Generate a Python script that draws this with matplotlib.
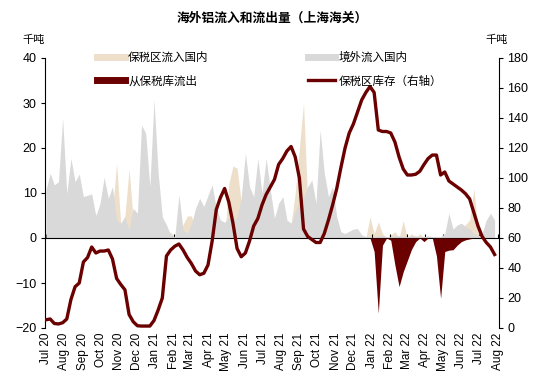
import pandas as pd
import matplotlib
matplotlib.use('Agg')
import matplotlib.pyplot as plt
import matplotlib.dates as mdates
from matplotlib.lines import Line2D

plt.rcParams['font.family'] = ['Liberation Sans', 'Noto Sans CJK SC']

# 周度数据 2020-07 ~ 2022-07
dates = pd.date_range('2020-07-01', periods=109, freq='7D')

# 保税区流入国内（千吨）
bonded_in = [0, 0, 0, 0, 0, 0, 0, 0, 0, 0,
             0, 0, 5.5, 0, 0, 0, 6, 16.6, 3, 5,
             15.3, 4, 0, 0, 0, 0, 0, 0, 0, 0,
             1.4, 0, 0, 3, 4.9, 4.9, 2, 0, 0, 0,
             0, 0, 0, 0, 12, 16, 15.5, 8, 0, 0,
             0, 0, 0, 0, 0, 0, 0, 0, 0, 3,
             10, 20, 30, 8, 0, 0, 0, 0, 0, 0,
             0, 0, 0, 0, 0, 0, 0, 0, 4.7, 1,
             3.6, 1, 0, 0.7, 1.4, 0, 3.9, 0, 1, 0,
             1, 0, 0, 0, 0, 0, 0, 0, 0, 0,
             2, 3, 4, 11, 2, 0, 0, 0, 0]

# 境外流入国内（千吨）
abroad_in = [10.7, 14.4, 11.8, 12.5, 26.6, 9.9, 17.7, 12.5, 14.2, 9.2,
             9.5, 9.8, 4.9, 7.7, 13.5, 8.8, 11.4, 4.0, 3.3, 4.7,
             1.8, 6.6, 5.5, 25.1, 23.3, 11.4, 30.7, 14.4, 4.7, 2.9,
             0.7, 0.3, 9.6, 1.8, 1.0, 3.0, 6.6, 8.8, 7.0, 9.5,
             11.8, 6.6, 4.0, 3.5, 4.5, 4.0, 4.5, 9.0, 18.8, 11.4,
             9.2, 17.7, 9.9, 17.7, 10.7, 4.4, 7.7, 9.2, 4.0, 3.3,
             6, 8, 9, 11.4, 12.9, 7.7, 24.0, 14.4, 9.2, 11.4,
             4.7, 1.4, 1.0, 1.5, 2.0, 2.1, 0.7, 0.3, 0.3, 0,
             0.5, 0.5, 0.3, 0.3, 0.5, 0.5, 0.3, 0.3, 0.5, 0.5,
             0.3, 0.3, 0.5, 0.3, 0.3, 0.3, 1.0, 5.5, 2.0, 2.9,
             3.3, 2.5, 2.0, 1.0, 0.5, 1.0, 4.0, 5.5, 4.0]

# 从保税库流出（千吨，负值）
bonded_out = [0] * 78 + [0, -3, -16.7, -1.6, 0, -0.5, -6, -10.8, -7.5, -5,
                         -2.5, -0.8, 0, -0.8, 0, 0, -4, -13.4, -3, -2.7,
                         -2.6, -1.6, -0.8, -0.4, -0.2, 0, 0, 0, 0, 0, 0]

# 保税区库存（千吨，右轴）
bonded_stock = [5.5, 6, 3, 2.7, 3.5, 6, 19, 27.5, 30, 44,
                47, 54, 50, 51.3, 51.3, 52, 46, 33, 29, 25.5,
                9, 4.2, 1.5, 1.3, 1.3, 1.3, 5, 12, 20, 48,
                52, 54.5, 56, 52, 47, 43, 38, 35.5, 36.5, 42,
                58, 79, 87, 93, 84, 70, 53, 47.5, 50, 58,
                68, 73, 82, 89, 94, 99, 109, 113, 118, 121,
                114, 100, 66, 61, 59, 57, 57, 63, 72, 82,
                93, 107, 120, 130, 136, 144, 152, 157, 161, 157,
                132, 131, 131, 130, 124, 114, 106, 102, 102, 102.5,
                104.5, 109, 113, 115.3, 115.3, 102, 104, 98, 96, 94,
                92, 89.5, 86, 77, 68, 61, 57, 54, 49]

c_beige = '#EEDFCB'
c_gray = '#D9D9D9'
c_red = '#6B0000'

fig = plt.figure(figsize=(5.34, 3.78), dpi=100)
ax = fig.add_axes([45/534, 1-328/378, 454/534, 270/378])

ax.fill_between(dates, 0, bonded_in, color=c_beige, lw=0, zorder=1)
ax.fill_between(dates, 0, abroad_in, color=c_gray, lw=0, zorder=2)
ax.fill_between(dates, 0, bonded_out, color=c_red, lw=0, zorder=3)

ax.set_ylim(-20, 40)
ax.set_yticks(range(-20, 41, 10))
ax.set_xlim(pd.Timestamp('2020-06-29 07:00'), pd.Timestamp('2022-08-03 10:00'))
ax.xaxis.set_major_locator(mdates.MonthLocator())
ax.xaxis.set_major_formatter(mdates.DateFormatter('%b %y'))
ax.spines['bottom'].set_position(('data', 0))
ax.spines[['top', 'right']].set_visible(False)
ax.tick_params(axis='x', direction='in', length=3, pad=68, labelrotation=90, labelsize=8.5)
ax.tick_params(axis='y', direction='out', length=3, pad=3, labelsize=9)

ax2 = ax.twinx()
ax2.plot(dates, bonded_stock, color=c_red, lw=2.4, zorder=4)
ax2.set_ylim(0, 180)
ax2.set_yticks(range(0, 181, 20))
ax2.spines[['top', 'left', 'bottom']].set_visible(False)
ax2.tick_params(axis='y', direction='out', length=3, pad=3, labelsize=9)

handles = [Line2D([], [], color=c_beige, lw=5),
           Line2D([], [], color=c_red, lw=5),
           Line2D([], [], color=c_gray, lw=5),
           Line2D([], [], color=c_red, lw=2.4)]
labels = ['保税区流入国内', '从保税库流出', '境外流入国内', '保税区库存（右轴）']
fig.legend(handles, labels, ncol=2, loc='upper left',
           bbox_to_anchor=(97/534, 1-52/378), frameon=False, fontsize=8.3,
           handlelength=2.4, handletextpad=0.3, columnspacing=8.6,
           labelspacing=1.0, borderpad=0, borderaxespad=0)

fig.text(272/534, 1-19/378, '海外铝流入和流出量（上海海关）', ha='center', va='center',
         fontsize=9.2, fontweight='bold')
fig.text(22/534, 1-40/378, '千吨', ha='left', va='center', fontsize=8)
fig.text(485/534, 1-40/378, '千吨', ha='left', va='center', fontsize=8)

fig.savefig('out.png', dpi=100)
